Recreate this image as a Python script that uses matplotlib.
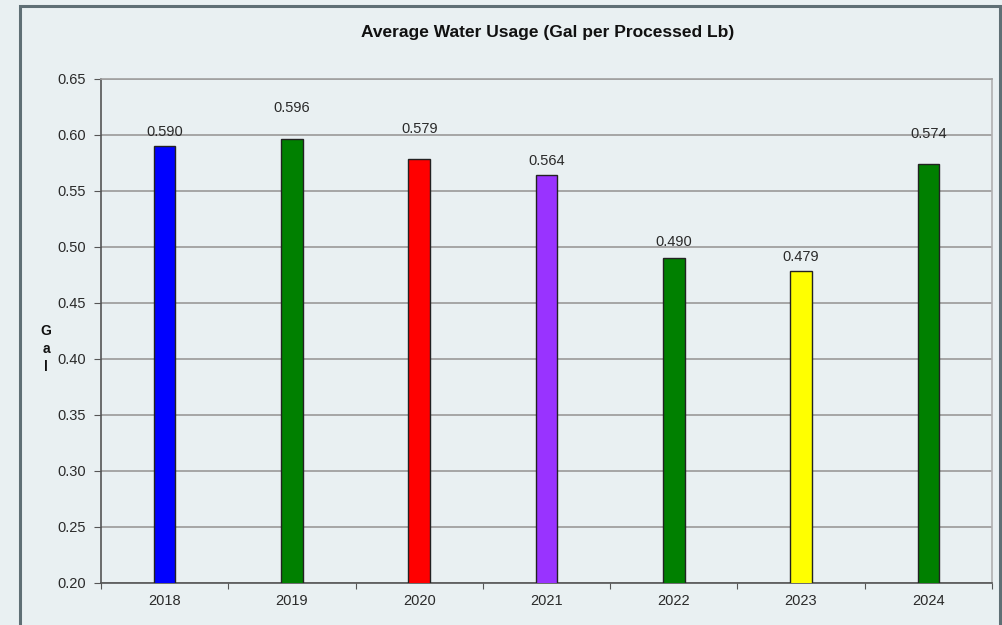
import matplotlib.pyplot as plt
from matplotlib.patches import Rectangle
from matplotlib.ticker import FixedLocator, NullFormatter

plt.rcParams['font.family'] = ['Liberation Sans', 'DejaVu Sans']

years = ['2018', '2019', '2020', '2021', '2022', '2023', '2024']
usage = [0.590, 0.596, 0.579, 0.564, 0.490, 0.479, 0.574]
bar_colors = ['#0000ff', '#008000', '#ff0000', '#9933ff', '#008000', '#ffff00', '#008000']
# how far above each bar its value label sits
label_lift = [0.0127, 0.028, 0.026, 0.013, 0.0145, 0.012, 0.027]
y_ticks = [0.20, 0.25, 0.30, 0.35, 0.40, 0.45, 0.50, 0.55, 0.60, 0.65]

bg = '#e9f0f2'
fig = plt.figure(figsize=(10.03, 6.25), dpi=100, facecolor=bg)
ax = fig.add_axes([0.1007, 0.0672, 0.8883, 0.8064], facecolor=bg)

# outer frame round the whole chart
fig.patches.append(Rectangle((20 / 1003, -0.05), 980 / 1003, 0.05 + 1 - 6 / 625,
                             transform=fig.transFigure, fill=False,
                             edgecolor='#5f6f75', linewidth=2.2, zorder=0))

x = range(len(years))
ax.bar(x, usage, width=0.17, color=bar_colors, edgecolor='#222222',
       linewidth=1.0, zorder=3)
for i, (v, lift) in enumerate(zip(usage, label_lift)):
    ax.text(i, v + lift, f'{v:.3f}', ha='center', va='center',
            fontsize=10.5, color='#2a2a2a', zorder=4)

ax.set_xlim(-0.5, len(years) - 0.5)
ax.set_ylim(0.20, 0.65)
ax.set_yticks(y_ticks)
ax.set_yticklabels([f'{t:.2f}' for t in y_ticks], fontsize=10.5, color='#2a2a2a')

# ticks between categories, labels centred under the bars
ax.xaxis.set_major_locator(FixedLocator([i - 0.5 for i in range(len(years) + 1)]))
ax.xaxis.set_major_formatter(NullFormatter())
ax.xaxis.set_minor_locator(FixedLocator(list(x)))
ax.set_xticklabels(years, minor=True, fontsize=10.5, color='#2a2a2a')
ax.tick_params(axis='x', which='major', length=4, color='#555555', direction='out')
ax.tick_params(axis='x', which='minor', length=0, pad=8)
ax.tick_params(axis='y', length=5, color='#555555', direction='out', pad=6)

ax.grid(axis='y', color='#a0a0a0', linewidth=1.3, zorder=1)
ax.set_axisbelow(True)
ax.spines['left'].set_color('#555555')
ax.spines['bottom'].set_color('#555555')
ax.spines['right'].set_color('#b0b0b0')
ax.spines['top'].set_color('#a0a0a0')
for s in ax.spines.values():
    s.set_linewidth(1.2)

fig.text(548 / 1003, 1 - 32 / 625, 'Average Water Usage (Gal per Processed Lb)',
         ha='center', va='center', fontsize=12.5, fontweight='bold', color='#111111')
fig.text(46 / 1003, 1 - 349 / 625, 'G\na\nl', ha='center', va='center',
         fontsize=10, fontweight='bold', color='#111111', linespacing=1.35)

fig.savefig('out.png', dpi=100, facecolor=bg)
